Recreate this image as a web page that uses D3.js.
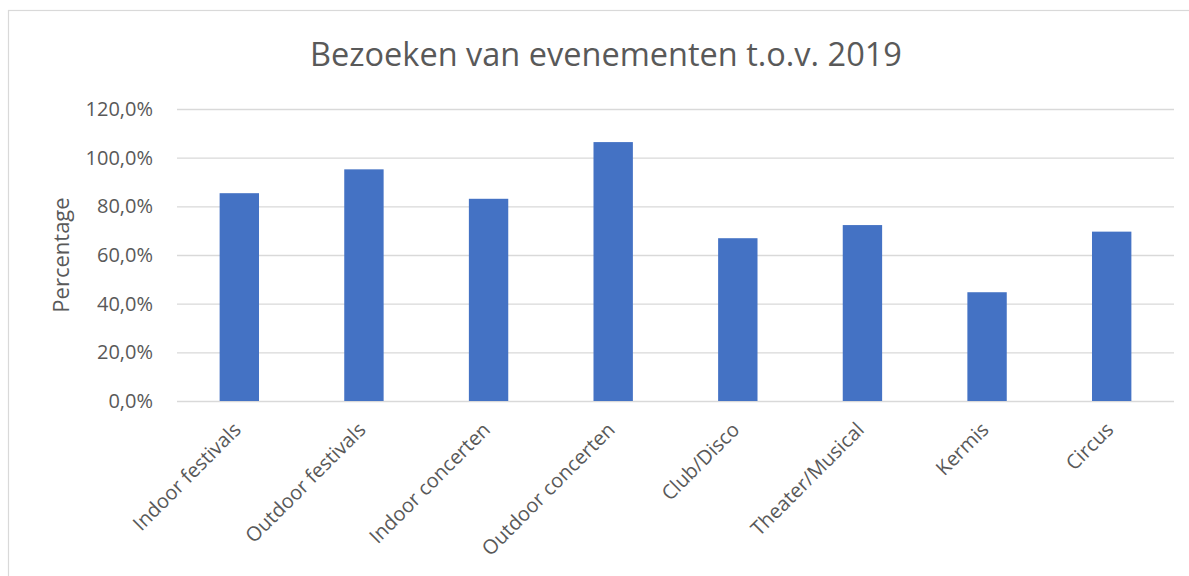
<!DOCTYPE html>
<html>
<head>
<meta charset="utf-8">
<script src="https://cdn.jsdelivr.net/npm/d3@7"></script>
<style>
    body { margin: 0; background: #fff; }
    svg text { font-family: "Open Sans", "Noto Sans", sans-serif; fill: #595959; }
</style>
</head>
<body>
<script>
// data
const categories = ["Indoor festivals", "Outdoor festivals", "Indoor concerten", "Outdoor concerten",
    "Club/Disco", "Theater/Musical", "Kermis", "Circus"];
const values = [85.4, 95.2, 83.1, 106.4, 66.9, 72.3, 44.7, 69.6];
const yTicks = [0, 20, 40, 60, 80, 100, 120];

const width = 1189, height = 576;
const margin = { top: 109, right: 15, bottom: 175, left: 177 };

const svg = d3.select("body").append("svg")
    .attr("width", width)
    .attr("height", height);

// 边框
svg.append("rect")
    .attr("x", 8.5).attr("y", 10.5)
    .attr("width", width + 20).attr("height", height + 20)
    .attr("fill", "#fff")
    .attr("stroke", "#d9d9d9")
    .attr("stroke-width", 1.2);

const x = d3.scaleBand().domain(categories).range([margin.left, width - margin.right]).paddingInner(0.684).paddingOuter(0.342);
const y = d3.scaleLinear().domain([0, 120]).range([height - margin.bottom, margin.top]);

// 网格线
svg.append("g")
    .attr("transform", `translate(${margin.left},0)`)
    .call(d3.axisLeft(y).tickValues(yTicks).tickSize(-(width - margin.left - margin.right)).tickFormat(d => d.toFixed(1).replace(".", ",") + "%").tickPadding(24))
    .call(g => g.select(".domain").remove())
    .call(g => g.selectAll(".tick line").attr("stroke", "#d9d9d9").attr("stroke-width", 1.3))
    .call(g => g.selectAll(".tick text").attr("font-size", 20).attr("fill", "#595959").attr("font-family", "Open Sans"));

// 柱子
svg.append("g").attr("fill", "#4472c4")
    .selectAll("rect").data(values).join("rect")
    .attr("x", (d, i) => x(categories[i]))
    .attr("y", d => y(d))
    .attr("width", x.bandwidth())
    .attr("height", d => y(0) - y(d));

// x轴标签
svg.append("g").selectAll("text").data(categories).join("text")
    .attr("transform", d => `translate(${x(d) + x.bandwidth() / 2 - 2},${y(0) + 25}) rotate(-45)`)
    .attr("text-anchor", "end")
    .attr("font-size", 20)
    .attr("dy", "0.35em")
    .text(d => d);

// y轴标题
svg.append("text")
    .attr("transform", `translate(69,${(y(0) + y(120)) / 2}) rotate(-90)`)
    .attr("text-anchor", "middle")
    .attr("font-size", 22)
    .text("Percentage");

// 标题
svg.append("text")
    .attr("x", 606).attr("y", 66)
    .attr("text-anchor", "middle")
    .attr("font-size", 32.5)
    .text("Bezoeken van evenementen t.o.v. 2019");
</script>
</body>
</html>
